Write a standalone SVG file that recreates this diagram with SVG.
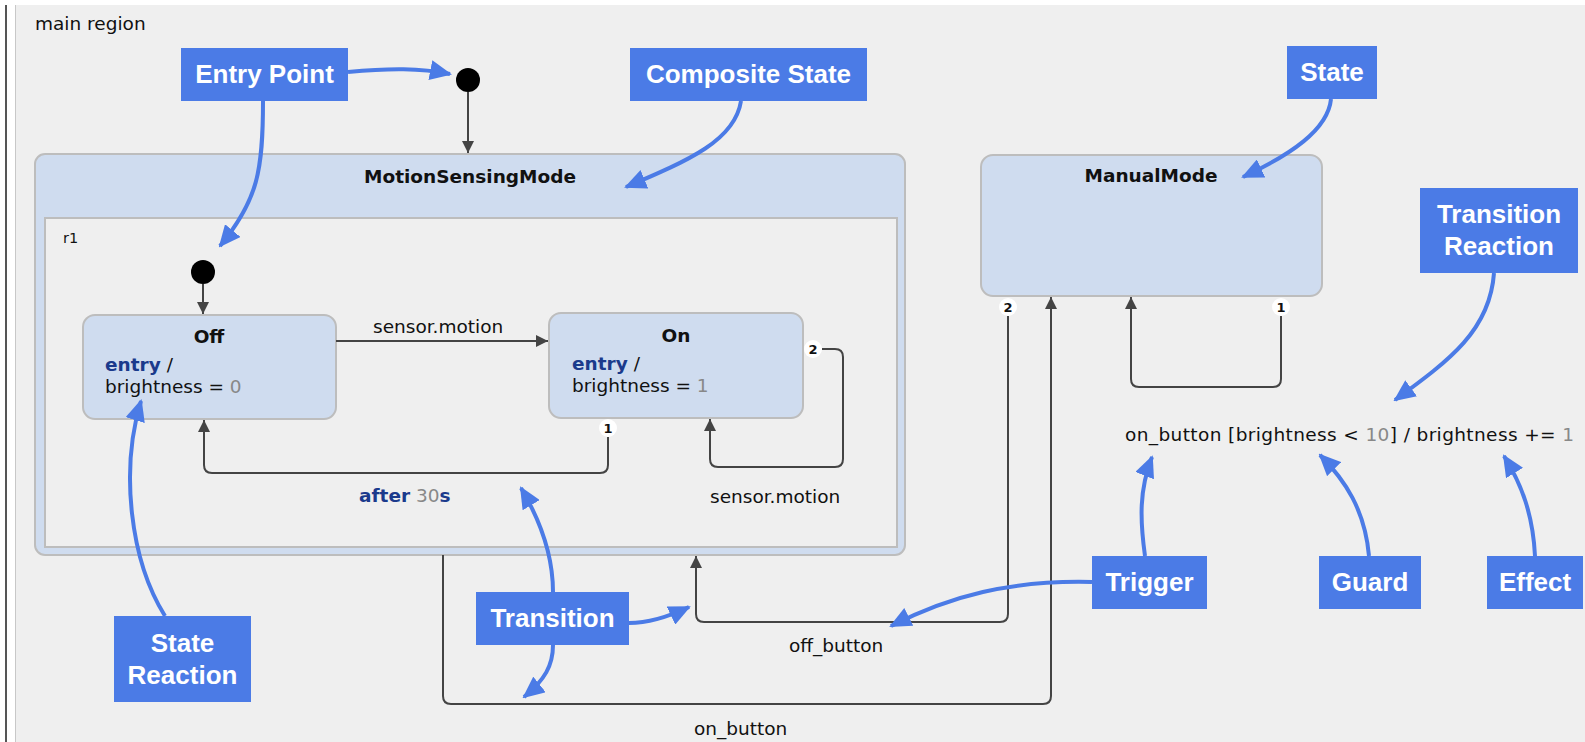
<svg xmlns="http://www.w3.org/2000/svg" width="1585" height="742" viewBox="0 0 1585 742">
  <style>
    .txt{font-family:"DejaVu Sans",Verdana,sans-serif;font-size:18.5px;fill:#111}
    .ttl{font-weight:bold;text-anchor:middle}
    .kw{fill:#1b3a8c;font-weight:bold}
    .num{fill:#888}
    .state{fill:#cfdcef;stroke:#bdbdbd;stroke-width:2}
    .region{fill:#efefef;stroke:#bdbdbd;stroke-width:2}
    .conn{fill:none;stroke:#444;stroke-width:2}
    .port circle{fill:#fff}
    .port text{font-family:"DejaVu Sans",Verdana,sans-serif;font-size:13px;font-weight:bold;fill:#111;text-anchor:middle}
    .note rect{fill:#4b7be6}
    .note text{font-family:"Liberation Sans",Arial,sans-serif;font-weight:bold;font-size:26px;fill:#fff;text-anchor:middle}
    .ann{fill:none;stroke:#4b7be6;stroke-width:4}
  </style>
  <defs>
    <marker id="arr" markerUnits="userSpaceOnUse" markerWidth="12" markerHeight="12" refX="12" refY="6" orient="auto">
      <path d="M0,0 L12,6 L0,12 z" fill="#444"/>
    </marker>
    <marker id="blue" markerUnits="userSpaceOnUse" markerWidth="22" markerHeight="20" refX="20" refY="10" orient="auto">
      <path d="M0,0 L22,10 L0,20 z" fill="#4b7be6"/>
    </marker>
  </defs>

  <!-- canvas and frame -->
  <rect x="0" y="0" width="1585" height="742" fill="#ffffff"/>
  <rect x="16" y="5" width="1569" height="737" fill="#efefef"/>
  <line x1="6" y1="5" x2="6" y2="742" stroke="#555" stroke-width="2"/>
  <line x1="15.5" y1="5" x2="15.5" y2="742" stroke="#c8c8c8" stroke-width="1"/>
  <text class="txt" x="35" y="30">main region</text>

  <!-- composite state -->
  <g id="MotionSensingMode">
    <rect class="state" x="35" y="154" width="870" height="401" rx="10"/>
    <text class="txt ttl" x="470" y="183">MotionSensingMode</text>
    <rect class="region" x="45" y="218" width="852" height="329"/>
    <text class="txt" x="63" y="243" style="font-size:14.5px">r1</text>
  </g>

  <g id="initial_main">
    <circle cx="468" cy="80" r="12" fill="#000"/>
  </g>
  <g id="initial_r1">
    <circle cx="203" cy="272" r="12" fill="#000"/>
  </g>

  <g id="Off">
    <rect class="state" x="83" y="315" width="253" height="104" rx="12"/>
    <text class="txt ttl" x="209" y="343">Off</text>
    <text class="txt" x="105" y="371"><tspan class="kw">entry</tspan> /</text>
    <text class="txt" x="105" y="393">brightness = <tspan class="num">0</tspan></text>
  </g>

  <g id="On">
    <rect class="state" x="549" y="313" width="254" height="105" rx="12"/>
    <text class="txt ttl" x="676" y="342">On</text>
    <text class="txt" x="572" y="370"><tspan class="kw">entry</tspan> /</text>
    <text class="txt" x="572" y="392">brightness = <tspan class="num">1</tspan></text>
  </g>

  <g id="ManualMode">
    <rect class="state" x="981" y="155" width="341" height="141" rx="12"/>
    <text class="txt ttl" x="1151" y="182">ManualMode</text>
  </g>

  <!-- transitions -->
  <g id="connectors">
    <path class="conn" d="M468,92 V153" marker-end="url(#arr)"/>
    <path class="conn" d="M203,284 V314" marker-end="url(#arr)"/>
    <path class="conn" d="M336,341 H548" marker-end="url(#arr)"/>
    <path class="conn" d="M608,437 V465 Q608,473 600,473 H212 Q204,473 204,465 V420" marker-end="url(#arr)"/>
    <path class="conn" d="M822,349 H835 Q843,349 843,357 V459 Q843,467 835,467 H718 Q710,467 710,459 V419" marker-end="url(#arr)"/>
    <path class="conn" d="M1008,316 V614 Q1008,622 1000,622 H704 Q696,622 696,614 V556" marker-end="url(#arr)"/>
    <path class="conn" d="M443,555 V696 Q443,704 451,704 H1043 Q1051,704 1051,696 V297" marker-end="url(#arr)"/>
    <path class="conn" d="M1281,316 V379 Q1281,387 1273,387 H1139 Q1131,387 1131,379 V297" marker-end="url(#arr)"/>

    <g class="port"><circle cx="608" cy="428" r="9"/><text x="608" y="433">1</text></g>
    <g class="port"><circle cx="813" cy="349" r="9"/><text x="813" y="354">2</text></g>
    <g class="port"><circle cx="1008" cy="307" r="9"/><text x="1008" y="312">2</text></g>
    <g class="port"><circle cx="1281" cy="307" r="9"/><text x="1281" y="312">1</text></g>

    <text class="txt" x="373" y="333">sensor.motion</text>
    <text class="txt" x="359" y="502"><tspan class="kw">after</tspan> <tspan class="num">30</tspan><tspan class="kw">s</tspan></text>
    <text class="txt" x="710" y="503">sensor.motion</text>
    <text class="txt" x="789" y="652">off_button</text>
    <text class="txt" x="694" y="735">on_button</text>
    <text class="txt" x="1125" y="441" textLength="449" lengthAdjust="spacing">on_button [brightness &lt; <tspan class="num">10</tspan>] / brightness += <tspan class="num">1</tspan></text>
  </g>

  <!-- callouts -->
  <g id="note_entry_point" class="note">
    <rect x="181" y="48" width="167" height="53"/>
    <text x="264.5" y="83">Entry Point</text>
    <path class="ann" d="M348,72 C390,68 420,68 450,74" marker-end="url(#blue)"/>
    <path class="ann" d="M263,101 C263,170 258,200 220,246" marker-end="url(#blue)"/>
  </g>
  <g id="note_composite_state" class="note">
    <rect x="630" y="48" width="237" height="53"/>
    <text x="748.5" y="83">Composite State</text>
    <path class="ann" d="M741,101 C735,140 690,160 626,187" marker-end="url(#blue)"/>
  </g>
  <g id="note_state" class="note">
    <rect x="1287" y="46" width="90" height="53"/>
    <text x="1332" y="81">State</text>
    <path class="ann" d="M1331,99 C1328,130 1290,155 1243,177" marker-end="url(#blue)"/>
  </g>
  <g id="note_transition_reaction" class="note">
    <rect x="1420" y="188" width="158" height="85"/>
    <text x="1499" y="223">Transition</text>
    <text x="1499" y="255">Reaction</text>
    <path class="ann" d="M1494,273 C1490,330 1450,360 1395,400" marker-end="url(#blue)"/>
  </g>
  <g id="note_state_reaction" class="note">
    <rect x="114" y="616" width="137" height="86"/>
    <text x="182.5" y="652">State</text>
    <text x="182.5" y="684">Reaction</text>
    <path class="ann" d="M165,616 C130,560 120,470 141,401" marker-end="url(#blue)"/>
  </g>
  <g id="note_transition" class="note">
    <rect x="476" y="592" width="153" height="53"/>
    <text x="552.5" y="627">Transition</text>
    <path class="ann" d="M553,592 C553,555 540,520 521,488" marker-end="url(#blue)"/>
    <path class="ann" d="M629,623 C650,623 668,617 689,607" marker-end="url(#blue)"/>
    <path class="ann" d="M553,645 C553,665 545,680 524,697" marker-end="url(#blue)"/>
  </g>
  <g id="note_trigger" class="note">
    <rect x="1092" y="556" width="115" height="53"/>
    <text x="1149.5" y="591">Trigger</text>
    <path class="ann" d="M1092,582 C1010,580 950,596 891,626" marker-end="url(#blue)"/>
    <path class="ann" d="M1145,556 C1140,520 1139,490 1152,457" marker-end="url(#blue)"/>
  </g>
  <g id="note_guard" class="note">
    <rect x="1319" y="556" width="102" height="53"/>
    <text x="1370" y="591">Guard</text>
    <path class="ann" d="M1369,556 C1365,510 1345,480 1320,455" marker-end="url(#blue)"/>
  </g>
  <g id="note_effect" class="note">
    <rect x="1487" y="556" width="96" height="53"/>
    <text x="1535" y="591">Effect</text>
    <path class="ann" d="M1535,556 C1533,515 1522,485 1504,456" marker-end="url(#blue)"/>
  </g>
</svg>
